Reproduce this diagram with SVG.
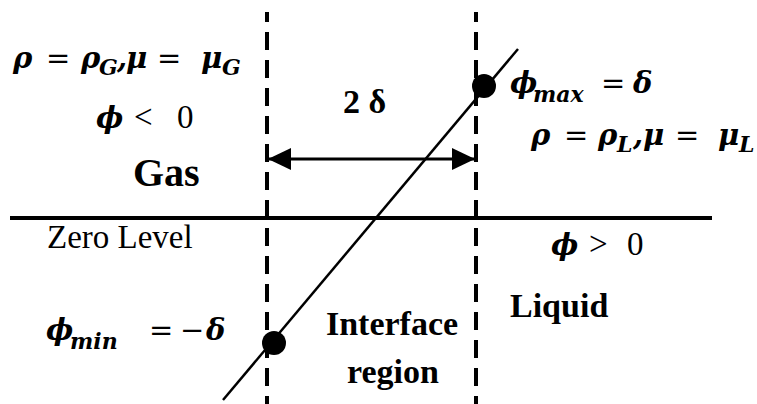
<svg xmlns="http://www.w3.org/2000/svg" width="757" height="404" viewBox="0 0 757 404" font-family="Liberation Serif, serif">
<style>
.m{font-weight:bold;font-style:italic;font-size:29px;fill:#000}
.s{font-weight:bold;font-style:italic;font-size:22px;fill:#000}
.e{font-size:29px;fill:#000}
.o{font-size:33px;fill:#000}
.b{font-weight:bold;font-size:34px;fill:#000}
.r{font-size:33px;fill:#000}
.dash{stroke:#000;stroke-width:4;stroke-dasharray:18 10;stroke-dashoffset:8;fill:none}
.solid{stroke:#000;fill:none}
</style>
<defs>
<marker id="ah" viewBox="0 0 23 22" refX="23" refY="11" markerWidth="23" markerHeight="22" markerUnits="userSpaceOnUse" orient="auto-start-reverse">
<path d="M0,0 L23,11 L0,22 Z" fill="#000"/>
</marker>
</defs>
<rect width="757" height="404" fill="#fff"/>
<g id="connectors">
<line class="dash" x1="267" y1="12" x2="267" y2="404"/>
<line class="dash" x1="476" y1="12" x2="476" y2="404"/>
<line class="solid" stroke-width="4" x1="10" y1="218" x2="712" y2="218"/>
<line class="solid" stroke-width="2.5" x1="518" y1="49" x2="223" y2="400"/>
<line class="solid" stroke-width="3" x1="268" y1="159" x2="475" y2="159" marker-start="url(#ah)" marker-end="url(#ah)"/>
</g>
<g id="dot-max"><circle cx="484" cy="86" r="12" fill="#000"/></g>
<g id="dot-min"><circle cx="274" cy="343" r="12" fill="#000"/></g>
<g id="gas-props" font-family="DejaVu Serif, serif">
<text class="m" x="13" y="68">ρ</text>
<text class="e" x="46" y="68">=</text>
<text class="m" x="81" y="68">ρ</text>
<text class="s" x="99" y="75">G</text>
<text class="m" x="117" y="68">,</text>
<text class="m" x="126" y="68">μ</text>
<text class="e" x="157" y="68">=</text>
<text class="m" x="201" y="68">μ</text>
<text class="s" x="222" y="75">G</text>
</g>
<g id="gas-phi">
<text class="m" x="96" y="128" font-family="DejaVu Serif, serif">ϕ</text>
<text class="o" x="134" y="128">&lt;</text>
<text class="o" x="177" y="128">0</text>
</g>
<g id="gas-label"><text class="b" x="133" y="186" style="font-size:40px">Gas</text></g>
<g id="width-label"><text class="b" x="343" y="113">2 δ</text></g>
<g id="phi-max" font-family="DejaVu Serif, serif">
<text class="m" x="510" y="93">ϕ</text>
<text class="s" x="533" y="102">max</text>
<text class="e" x="601" y="93">=</text>
<text class="m" x="633" y="93">δ</text>
</g>
<g id="liquid-props" font-family="DejaVu Serif, serif">
<text class="m" x="531" y="145">ρ</text>
<text class="e" x="564" y="145">=</text>
<text class="m" x="598" y="145">ρ</text>
<text class="s" x="617" y="152">L</text>
<text class="m" x="633" y="145">,</text>
<text class="m" x="643" y="145">μ</text>
<text class="e" x="675" y="145">=</text>
<text class="m" x="718" y="145">μ</text>
<text class="s" x="739" y="152">L</text>
</g>
<g id="zero-level"><text class="r" x="47" y="248">Zero Level</text></g>
<g id="liquid-phi">
<text class="m" x="551" y="255" font-family="DejaVu Serif, serif">ϕ</text>
<text class="o" x="589" y="255">&gt;</text>
<text class="o" x="627" y="255">0</text>
</g>
<g id="liquid-label"><text class="b" x="510" y="317">Liquid</text></g>
<g id="interface-label">
<text class="b" x="392" y="335" text-anchor="middle">Interface</text>
<text class="b" x="393" y="383" text-anchor="middle">region</text>
</g>
<g id="phi-min" font-family="DejaVu Serif, serif">
<text class="m" x="46" y="340">ϕ</text>
<text class="s" x="70" y="349">min</text>
<text class="e" x="149" y="340">=</text>
<text class="e" x="180" y="340">−</text>
<text class="m" x="206" y="340">δ</text>
</g>
</svg>
